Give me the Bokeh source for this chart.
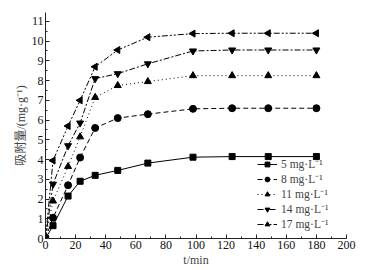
import math
from bokeh.plotting import figure
from bokeh.models import Range1d, Legend, LegendItem, FixedTicker
from bokeh.embed import file_html
from bokeh.resources import INLINE

t_min = [0, 5, 15, 23, 33, 48, 68, 98, 124, 148, 180]
q_5 = [0, 0.65, 2.15, 2.9, 3.2, 3.45, 3.82, 4.12, 4.15, 4.15, 4.15]
q_8 = [0, 1.05, 2.7, 4.1, 5.6, 6.1, 6.3, 6.57, 6.6, 6.6, 6.6]
q_11 = [0, 1.9, 3.65, 5.15, 7.15, 7.75, 7.95, 8.25, 8.25, 8.25, 8.25]
q_14 = [0, 2.75, 4.7, 5.85, 8.1, 8.35, 8.85, 9.5, 9.55, 9.55, 9.55]
q_17 = [0, 3.95, 5.7, 7.0, 8.7, 9.55, 10.2, 10.38, 10.4, 10.4, 10.4]
series_labels = ["5 mg·L⁻¹", "8 mg·L⁻¹", "11 mg·L⁻¹", "14 mg·L⁻¹", "17 mg·L⁻¹"]
x_ticks = [0, 20, 40, 60, 80, 100, 120, 140, 160, 180, 200]
y_ticks = [0, 1, 2, 3, 4, 5, 6, 7, 8, 9, 10, 11]

serif = "'Liberation Serif', 'Times New Roman', 'Noto Sans CJK SC', serif"
serif_latin = "Liberation Serif"

p = figure(width=365, height=270, output_backend="svg", toolbar_location=None,
           x_range=Range1d(0, 200), y_range=Range1d(0, 11.45),
           min_border_left=45, min_border_right=19, min_border_top=12, min_border_bottom=32)
p.outline_line_color = None
p.grid.grid_line_color = None
p.background_fill_color = "white"

for ax in (p.xaxis[0], p.yaxis[0]):
    ax.major_tick_in = 4
    ax.major_tick_out = 0
    ax.minor_tick_in = 2
    ax.minor_tick_out = 0
    ax.major_label_text_font = serif_latin
    ax.major_label_text_font_size = "12px"
    ax.major_label_text_color = "#111111"
    ax.axis_label_text_font = serif
    ax.axis_label_text_font_size = "12px"
    ax.axis_label_text_font_style = "normal"
    ax.axis_line_color = "#222222"
    ax.major_tick_line_color = "#222222"
    ax.minor_tick_line_color = "#222222"
    ax.major_label_standoff = 2
    ax.axis_label_standoff = 1

p.xaxis[0].ticker = FixedTicker(ticks=x_ticks, minor_ticks=[v + 10 for v in x_ticks[:-1]])
p.yaxis[0].ticker = FixedTicker(ticks=y_ticks, minor_ticks=[v + 0.5 for v in y_ticks])
p.xaxis[0].axis_label = "t/min"
p.xaxis[0].axis_label_text_font = serif_latin
p.yaxis[0].axis_label = "吸附量/(mg·g⁻¹)"

series = [q_5, q_8, q_11, q_14, q_17]
dashes = ["solid", "5 3", "1 3", "6 2 2 2", "6 2 2 2 2 2"]
markers = [("square", 0), ("circle", 0), ("triangle", 0), ("inverted_triangle", 0), ("triangle", math.pi / 2)]
sizes = [6, 7, 7, 7, 7]
items = []
for ys, dash, (mk, ang), sz, lab in zip(series, dashes, markers, sizes, series_labels):
    r1 = p.line(t_min, ys, line_color="black", line_width=1, line_dash=dash)
    r2 = p.scatter(t_min, ys, marker=mk, angle=ang, size=sz, fill_color="black", line_color="black")
    items.append(LegendItem(label=lab, renderers=[r1, r2]))

legend = Legend(items=items, location=(212, 7))
legend.border_line_color = None
legend.background_fill_alpha = 0
legend.label_text_font = serif_latin
legend.label_text_font_size = "11.5px"
legend.glyph_width = 20
legend.glyph_height = 12
legend.label_height = 12
legend.spacing = 0
legend.padding = 2
legend.margin = 0
legend.label_standoff = 4
p.add_layout(legend)

open("out.html", "w").write(file_html(p, INLINE))
